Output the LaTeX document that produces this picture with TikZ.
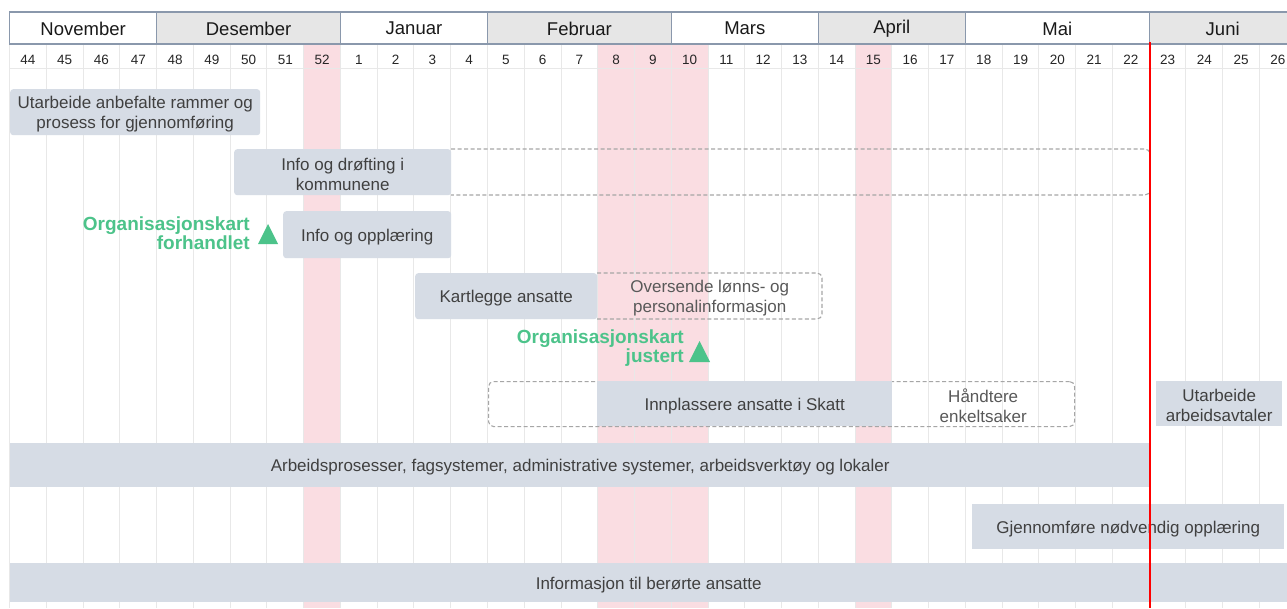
\documentclass[tikz,border=0pt]{standalone}
\usepackage{fontspec}
\setmainfont{Liberation Sans}
\definecolor{boxfill}{HTML}{D6DCE5}
\definecolor{pinkc}{HTML}{FADDE2}
\definecolor{msgreen}{HTML}{4CC38A}
\definecolor{hdrgray}{HTML}{E6E6E6}
\definecolor{hdrline}{HTML}{8A98AC}
\definecolor{gridc}{HTML}{E8E8E8}
\definecolor{dashc}{HTML}{A6A6A6}
\definecolor{txtc}{HTML}{404040}
\definecolor{dtxtc}{HTML}{595959}
% #1 box style, #2 name, #3 x1, #4 y1, #5 x2, #6 y2, #7 text style, #8 text
\newcommand\ganttbox[8]{%
  \node[#1, anchor=north west, minimum width={#5-#3}, minimum height={#6-#4}] (#2) at (#3,#4) {};
  \node[#7, yshift=-2pt] (#2t) at (#2.center) {#8};}
\begin{document}
\begin{tikzpicture}[x=1pt,y=-1pt,
  gridline/.style={draw=gridc, line width=1pt},
  hdr/.style={draw=hdrline, line width=1.3pt},
  monthlbl/.style={font=\fontsize{18.5}{22}\selectfont, text=black!90, inner sep=0pt},
  weeklbl/.style={font=\fontsize{13.5}{16}\selectfont, text=black!85, inner sep=0pt},
  taskbox/.style={fill=boxfill, rounded corners=3pt, inner sep=0pt},
  barbox/.style={fill=boxfill, inner sep=0pt},
  tasktext/.style={inner sep=0pt, align=center, text=txtc, font=\fontsize{17}{20}\selectfont},
  dashline/.style={draw=dashc, line width=1.1pt, dash pattern=on 4pt off 2.5pt, rounded corners=5pt},
  dashbox/.style={dashline, inner sep=0pt},
  noframe/.style={inner sep=0pt},
  dashtext/.style={inner sep=0pt, align=center, text=dtxtc, font=\fontsize{17}{20}\selectfont},
  mslbl/.style={inner sep=0pt, align=right, text=msgreen, font=\fontsize{19}{19}\selectfont\bfseries},
  mstri/.style={fill=msgreen},
  todayline/.style={draw=red, line width=1.6pt}
]
\useasboundingbox (0,0) rectangle (1287,608);
\clip (0,0) rectangle (1287,608);
\fill[white] (0,0) rectangle (1287,608);
% pink (holiday) columns
\foreach \c in {8,16,17,18,23}
  \fill[pinkc] ({9.6+\c*36.76},45) rectangle ({9.6+(\c+1)*36.76},608);
% grid
\foreach \i in {0,...,35}
  \draw[gridline] ({9.6+\i*36.76},45) -- ({9.6+\i*36.76},608);
\draw[gridline] (9.6,68) -- (1287,68);
% month header
\foreach \s/\n/\m/\f in {0/4/November/white, 4/5/Desember/hdrgray, 9/4/Januar/white,
    13/5/Februar/hdrgray, 18/4/Mars/white, 22/4/April/hdrgray, 26/5/Mai/white, 31/4/Juni/hdrgray}{
  \draw[hdr, fill=\f] ({9.6+\s*36.76},12) rectangle ({9.6+(\s+\n)*36.76},44);
  \node[monthlbl] (m\m) at ({9.6+(\s+\n/2)*36.76},28.5) {\m};
}
% week numbers
\foreach \w [count=\i from 0] in {44,45,46,47,48,49,50,51,52,1,2,3,4,5,6,7,8,9,10,11,12,13,14,15,16,17,18,19,20,21,22,23,24,25,26}
  \node[weeklbl] (w\w) at ({9.6+(\i+0.5)*36.76},59.5) {\w};
% tasks
\ganttbox{taskbox}{b1}{10}{89}{260}{135}{tasktext}{Utarbeide anbefalte rammer og\\prosess for gjennomføring}
\draw[dashline] (451,149) -- (1150,149) -- (1150,195) -- (451,195);
\ganttbox{taskbox}{b2}{234}{149}{451}{195}{tasktext}{Info og drøfting i\\kommunene}
\ganttbox{taskbox}{b3}{283}{211}{451}{258}{tasktext}{Info og opplæring}
\draw[dashline] (597,273) -- (822,273) -- (822,319) -- (597,319);
\ganttbox{noframe}{b4x}{597}{273}{822}{319}{dashtext}{Oversende lønns- og\\personalinformasjon}
\ganttbox{taskbox}{b4}{415}{273}{597}{319}{tasktext}{Kartlegge ansatte}
\ganttbox{dashbox}{b5x}{488}{381}{1074}{426}{noframe}{}
\ganttbox{noframe}{b5h}{892}{381}{1074}{426}{dashtext}{Håndtere\\enkeltsaker}
\ganttbox{barbox}{b5}{597}{381}{892}{426}{tasktext}{Innplassere ansatte i Skatt}
\ganttbox{barbox}{b6}{1156}{381}{1282}{426}{tasktext}{Utarbeide\\arbeidsavtaler}
\ganttbox{barbox}{b7}{10}{443}{1150}{487}{tasktext}{Arbeidsprosesser, fagsystemer, administrative systemer, arbeidsverktøy og lokaler}
\ganttbox{barbox}{b8}{972}{504}{1284}{549}{tasktext}{Gjennomføre nødvendig opplæring}
\ganttbox{barbox}{b9}{10}{563}{1287}{602}{tasktext}{Informasjon til berørte ansatte}
% milestones
\fill[mstri] (258,244) -- (278,244) -- (268,224) -- cycle;
\node[mslbl, anchor=east] (ms1) at (250,233) {Organisasjonskart\\forhandlet};
\fill[mstri] (689,362) -- (710,362) -- (699.5,341) -- cycle;
\node[mslbl, anchor=east] (ms2) at (684,348) {Organisasjonskart\\justert};
% today line
\draw[todayline] (1150,42) -- (1150,608);
\end{tikzpicture}
\end{document}
